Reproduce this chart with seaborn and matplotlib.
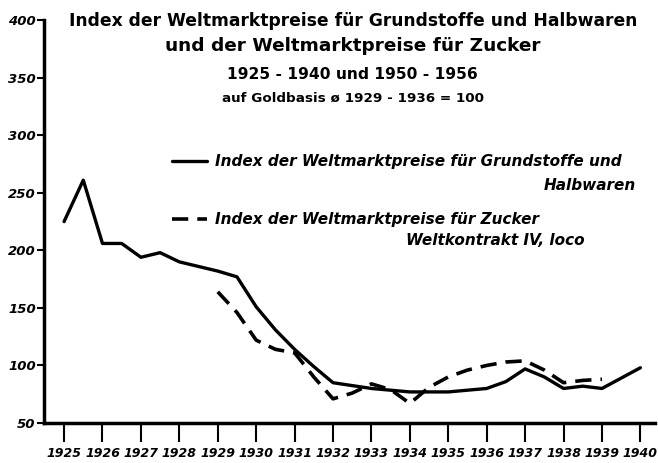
import matplotlib
matplotlib.use("Agg")
import matplotlib.pyplot as plt
import pandas as pd
import seaborn as sns

# Index der Weltmarktpreise für Grundstoffe und Halbwaren (Halbjahreswerte)
rohstoff_jahre = [1925.0, 1925.5, 1926.0, 1926.5, 1927.0, 1927.5, 1928.0, 1928.5,
                  1929.0, 1929.5, 1930.0, 1930.5, 1931.0, 1931.5, 1932.0, 1933.0,
                  1934.0, 1935.0, 1936.0, 1936.5, 1937.0, 1937.5, 1938.0, 1938.5,
                  1939.0, 1940.0]
rohstoff_index = [225, 261, 206, 206, 194, 198, 190, 186,
                  182, 177, 151, 131, 114, 99, 85, 80,
                  77, 77, 80, 86, 97, 90, 80, 82,
                  80, 98]

# Index der Weltmarktpreise für Zucker, Weltkontrakt IV, loco
zucker_jahre = [1929.0, 1929.5, 1930.0, 1930.5, 1931.0, 1931.5, 1932.0, 1932.5,
                1933.0, 1933.5, 1934.0, 1934.5, 1935.0, 1935.5, 1936.0, 1936.5,
                1937.0, 1937.5, 1938.0, 1938.5, 1939.0]
zucker_index = [164, 146, 122, 114, 111, 90, 71, 76,
                84, 79, 67, 81, 90, 96, 100, 103,
                104, 96, 85, 87, 88]

x_ticks = list(range(1925, 1941))
y_ticks = [50, 100, 150, 200, 250, 300, 350, 400]

label_roh = "Index der Weltmarktpreise für Grundstoffe und"
label_roh_2 = "Halbwaren"
label_zuc = "Index der Weltmarktpreise für Zucker"
label_zuc_2 = "Weltkontrakt IV, loco"

df_roh = pd.DataFrame({"jahr": rohstoff_jahre, "index": rohstoff_index})
df_zuc = pd.DataFrame({"jahr": zucker_jahre, "index": zucker_index})

sns.set_style("white")
plt.rcParams["font.family"] = ["DejaVu Sans"]
plt.rcParams["text.color"] = "black"
plt.rcParams["xtick.color"] = "black"
plt.rcParams["ytick.color"] = "black"

fig = plt.figure(figsize=(6.58, 4.63), dpi=100)
ax = fig.add_axes([0.067, 0.0864, 0.929, 0.870])

sns.lineplot(data=df_roh, x="jahr", y="index", ax=ax, color="black",
             linewidth=2.4, label=label_roh)
sns.lineplot(data=df_zuc, x="jahr", y="index", ax=ax, color="black",
             linewidth=2.6, linestyle=(0, (4.5, 2.5)), label=label_zuc)

ax.set_xlim(1924.48, 1940.39)
ax.set_ylim(50, 400)
ax.set_xticks(x_ticks)
ax.set_xticklabels([str(j) for j in x_ticks], fontsize=9, fontweight="bold",
                   style="italic")
ax.set_yticks(y_ticks)
ax.set_yticklabels([str(v) for v in y_ticks], fontsize=9.5, fontweight="bold",
                   style="italic")
ax.tick_params(axis="x", direction="out", length=14, width=1.5, pad=3,
               bottom=True)
ax.tick_params(axis="y", direction="out", length=5, width=1.5, pad=1,
               left=True)
ax.set_xlabel("")
ax.set_ylabel("")

for side in ["top", "right"]:
    ax.spines[side].set_visible(False)
for side in ["left", "bottom"]:
    ax.spines[side].set_linewidth(2.5)
    ax.spines[side].set_color("black")

leg = ax.legend(loc="upper left", bbox_to_anchor=(0.2095, 0.668), frameon=False,
                fontsize=11, handlelength=2.3, handletextpad=0.5,
                labelspacing=2.85, borderpad=0, borderaxespad=0)
for t in leg.get_texts():
    t.set_style("italic")
    t.set_fontweight("bold")

fig.text(636 / 658, 1 - 186 / 463, label_roh_2, ha="right", va="center",
         fontsize=11, fontweight="bold", style="italic")
fig.text(585 / 658, 1 - 241 / 463, label_zuc_2, ha="right", va="center",
         fontsize=11, fontweight="bold", style="italic")

cx = 0.536
fig.text(cx, 0.955, "Index der Weltmarktpreise für Grundstoffe und Halbwaren",
         ha="center", va="center", fontsize=12.3, fontweight="bold")
fig.text(cx, 0.900, "und der Weltmarktpreise für Zucker",
         ha="center", va="center", fontsize=13.3, fontweight="bold")
fig.text(cx, 0.840, "1925 - 1940 und 1950 - 1956",
         ha="center", va="center", fontsize=11.2, fontweight="bold")
fig.text(cx, 0.788, "auf Goldbasis ø 1929 - 1936 = 100",
         ha="center", va="center", fontsize=9.7, fontweight="bold")

fig.savefig("out.png", dpi=100)
plt.close(fig)
